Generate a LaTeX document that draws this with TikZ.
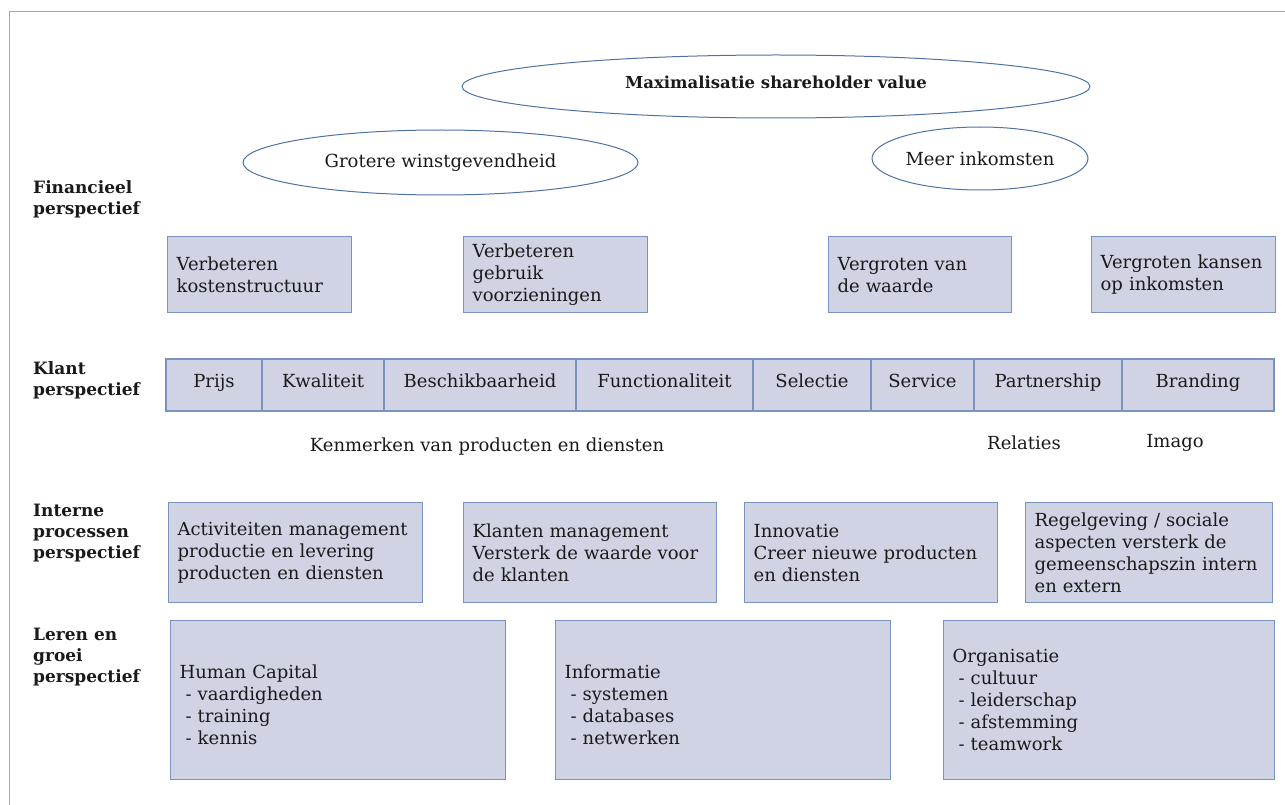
\documentclass[tikz,border=0pt]{standalone}
\usepackage{fontspec}
\setmainfont{DejaVu Serif}
\usetikzlibrary{positioning,shapes.geometric}
\definecolor{boxfill}{HTML}{CFD3E3}
\definecolor{boxline}{HTML}{7B93BF}
\definecolor{ovalline}{HTML}{4E71A6}
\definecolor{frameline}{HTML}{98A8CA}
\definecolor{inkt}{HTML}{1A1A1A}

\begin{document}
\begin{tikzpicture}[x=1pt,y=-1pt,
    every node/.style={font=\fontsize{18}{22}\selectfont, text=inkt},
    doel/.style={ellipse, draw=ovalline, line width=1pt, inner sep=0pt},
    vak/.style={draw=boxline, fill=boxfill, line width=1.3pt, anchor=north west,
                align=left, inner xsep=9pt, inner ysep=0pt},
    cel/.style={draw=boxline, fill=boxfill, line width=1.3pt, inner sep=0pt, outer sep=0pt,
                minimum height=52pt, text height=0.75em, text depth=0.25em},
    kop/.style={anchor=west, align=left, inner sep=0pt,
                font=\fontsize{17}{21.3}\selectfont\bfseries}]
			\useasboundingbox (0,0) rectangle (1285,805);
			\draw[frameline, line width=0.8pt] (9,805) -- (9,11) -- (1285,11);

			% doelen
			\node[doel, minimum width=628pt, minimum height=63pt, text height=0.75em, text depth=0.25em,
			      font=\fontsize{16.5}{21}\selectfont\bfseries] (waarde) at (776,86.5) {Maximalisatie shareholder value};
			\node[doel, minimum width=395pt, minimum height=65pt] (winst) at (440.5,162.5) {Grotere winstgevendheid};
			\node[doel, minimum width=216pt, minimum height=63pt] (inkomsten) at (980,158.5) {Meer inkomsten};

			\node[kop] (financieel) at (33,199) {Financieel\\perspectief};
			\node[kop] (klant) at (33,380) {Klant\\perspectief};
			\node[kop] (intern) at (33,533) {Interne\\processen\\perspectief};
			\node[kop] (leren) at (33,657) {Leren en\\groei\\perspectief};

			% financieel
			\node[vak, text width=166pt, minimum height=76pt] (kosten) at (167,236) {Verbeteren\\kostenstructuur};
			\node[vak, text width=166pt, minimum height=76pt] (gebruik) at (463,236) {Verbeteren\\gebruik\\voorzieningen};
			\node[vak, text width=165pt, minimum height=76pt] (vergroten) at (828,236) {Vergroten van\\de waarde};
			\node[vak, text width=166pt, minimum height=76pt] (kansen) at (1091,236) {Vergroten kansen\\op inkomsten};

			% klant
			\node[cel, anchor=north west, minimum width=96pt] (prijs) at (166,359) {Prijs};
			\node[cel, minimum width=122pt, right=0pt of prijs] (kwaliteit) {Kwaliteit};
			\node[cel, minimum width=192pt, right=0pt of kwaliteit] (beschikbaar) {Beschikbaarheid};
			\node[cel, minimum width=177pt, right=0pt of beschikbaar] (functie) {Functionaliteit};
			\node[cel, minimum width=118pt, right=0pt of functie] (selectie) {Selectie};
			\node[cel, minimum width=103pt, right=0pt of selectie] (service) {Service};
			\node[cel, minimum width=148pt, right=0pt of service] (partner) {Partnership};
			\node[cel, minimum width=152pt, right=0pt of partner] (branding) {Branding};

			\node (kenmerken) at (487,447) {Kenmerken van producten en diensten};
			\node (relaties) at (1024,443) {Relaties};
			\node (imago) at (1175,443) {Imago};

			% interne processen
			\node[vak, text width=236pt, minimum height=100pt] (activiteiten) at (168,502) {Activiteiten management\\productie en levering\\producten en diensten};
			\node[vak, text width=235pt, minimum height=100pt] (klanten) at (463,502) {Klanten management\\Versterk de waarde voor\\de klanten};
			\node[vak, text width=235pt, minimum height=100pt] (innovatie) at (744,502) {Innovatie\\Creer nieuwe producten\\en diensten};
			\node[vak, text width=229pt, minimum height=100pt] (regels) at (1025,502) {Regelgeving / sociale\\aspecten versterk de\\gemeenschapszin intern\\en extern};

			% leren en groei
			\node[vak, text width=317pt, minimum height=159pt] (human) at (170,620) {\mbox{}\\Human Capital\\~- vaardigheden\\~- training\\~- kennis};
			\node[vak, text width=317pt, minimum height=159pt] (informatie) at (555,620) {\mbox{}\\Informatie\\~- systemen\\~- databases\\~- netwerken};
			\node[vak, text width=313pt, minimum height=159pt] (organisatie) at (943,620) {Organisatie\\~- cultuur\\~- leiderschap\\~- afstemming\\~- teamwork};
		\end{tikzpicture}
\end{document}
